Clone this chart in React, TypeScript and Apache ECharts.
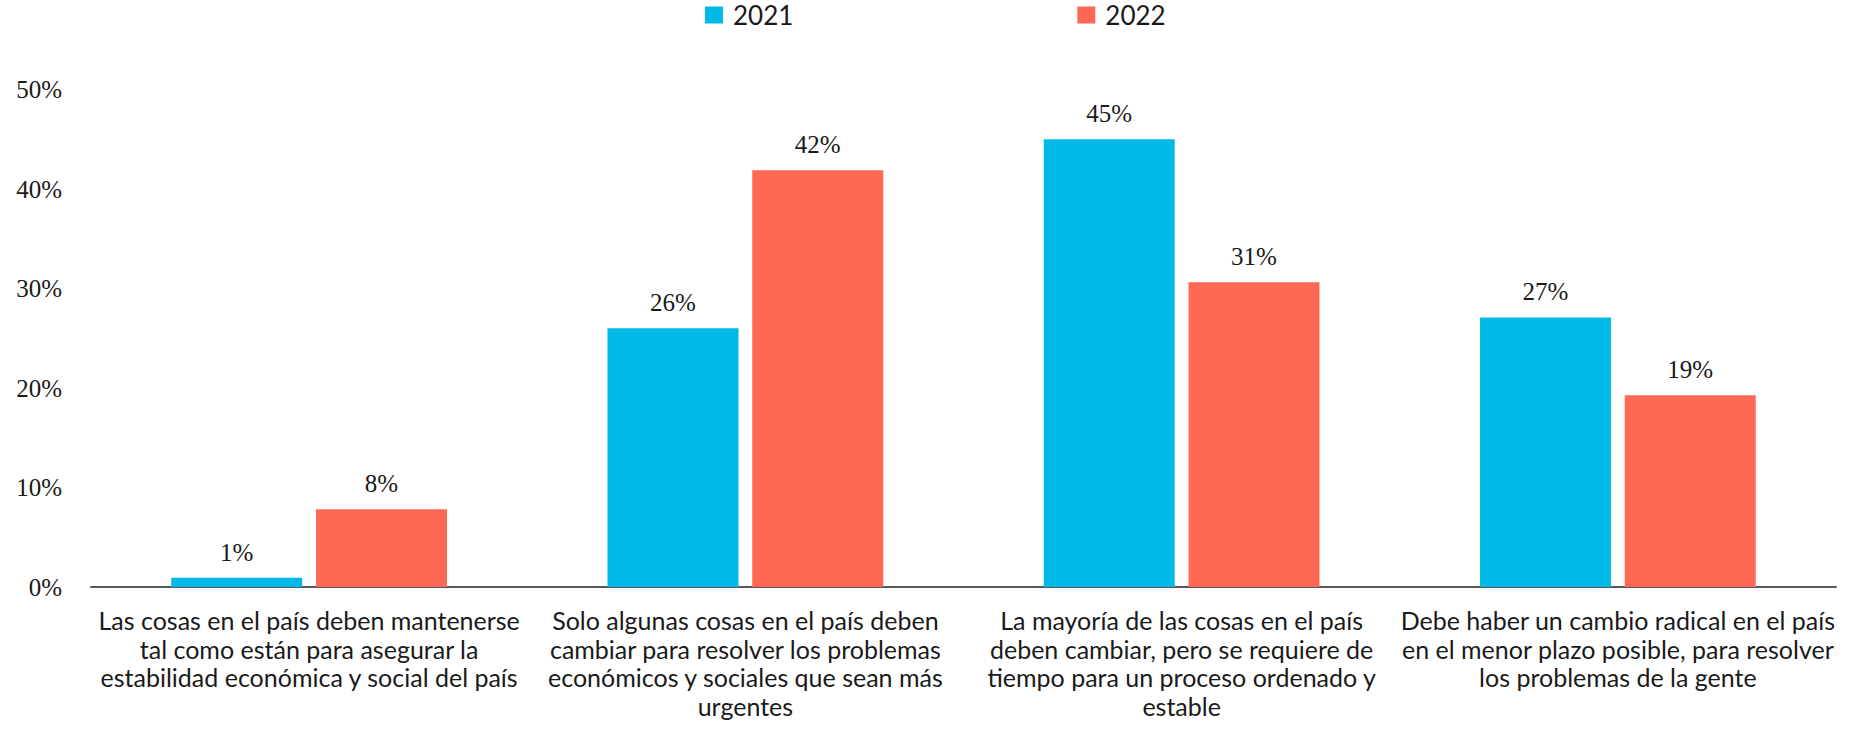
import React, { useEffect, useRef } from "react";
import * as echarts from "echarts";

const categories = [
  "Las cosas en el país deben mantenerse\ntal como están para asegurar la\nestabilidad económica y social del país",
  "Solo algunas cosas en el país deben\ncambiar para resolver los problemas\neconómicos y sociales que sean más\nurgentes",
  "La mayoría de las cosas en el país\ndeben cambiar, pero se requiere de\ntiempo para un proceso ordenado y\nestable",
  "Debe haber un cambio radical en el país\nen el menor plazo posible, para resolver\nlos problemas de la gente",
];
const seriesNames = ["2021", "2022"];
const values2021 = [0.93, 26.0, 45.0, 27.1];
const values2022 = [7.81, 41.9, 30.63, 19.27];
const yTicks = { min: 0, max: 50, interval: 10 };
const colors = ["#00B9E7", "#FF6854"];

export default function App() {
  const ref = useRef<HTMLDivElement>(null);
  useEffect(() => {
    document.body.style.margin = "0";
    if (!ref.current) return;
    const chart = echarts.init(ref.current, null, { renderer: "svg" });
    const labelCfg = {
      show: true,
      position: "top",
      distance: 13,
      fontFamily: "Liberation Serif",
      fontSize: 25,
      color: "#1a1a1a",
      formatter: (p: any) => Math.round(p.value) + "%",
    };
    chart.setOption({
      animation: false,
      legend: {
        data: seriesNames,
        top: -5,
        left: 700,
        itemWidth: 18,
        itemHeight: 17,
        itemGap: 284,
        icon: "rect",
        textStyle: {
          fontFamily: "Lato",
          fontSize: 26,
          lineHeight: 30,
          color: "#1a1a1a",
          padding: [0, 0, 0, 5],
        },
      },
      grid: { left: 91, right: 13, top: 89.6, bottom: 147, containLabel: false },
      xAxis: {
        type: "category",
        data: categories,
        axisLine: { show: true, lineStyle: { color: "#595959", width: 2 } },
        axisTick: { show: false },
        axisLabel: {
          interval: 0,
          margin: 19,
          fontFamily: "Lato",
          fontSize: 25,
          lineHeight: 28.5,
          color: "#1a1a1a",
          align: "center",
        },
      },
      yAxis: {
        type: "value",
        min: yTicks.min,
        max: yTicks.max,
        interval: yTicks.interval,
        axisLine: { show: false },
        axisTick: { show: false },
        splitLine: { show: false },
        axisLabel: {
          margin: 29,
          fontFamily: "Liberation Serif",
          fontSize: 25,
          color: "#1a1a1a",
          formatter: (v: number) => v + "%",
        },
      },
      series: [
        {
          name: seriesNames[0],
          type: "bar",
          data: values2021,
          itemStyle: { color: colors[0] },
          barWidth: 131,
          barGap: "10.5%",
          label: labelCfg,
        },
        {
          name: seriesNames[1],
          type: "bar",
          data: values2022,
          itemStyle: { color: colors[1] },
          barWidth: 131,
          barGap: "10.5%",
          label: labelCfg,
        },
      ],
    });
    return () => chart.dispose();
  }, []);
  return <div ref={ref} style={{ width: 1849, height: 734 }} />;
}
